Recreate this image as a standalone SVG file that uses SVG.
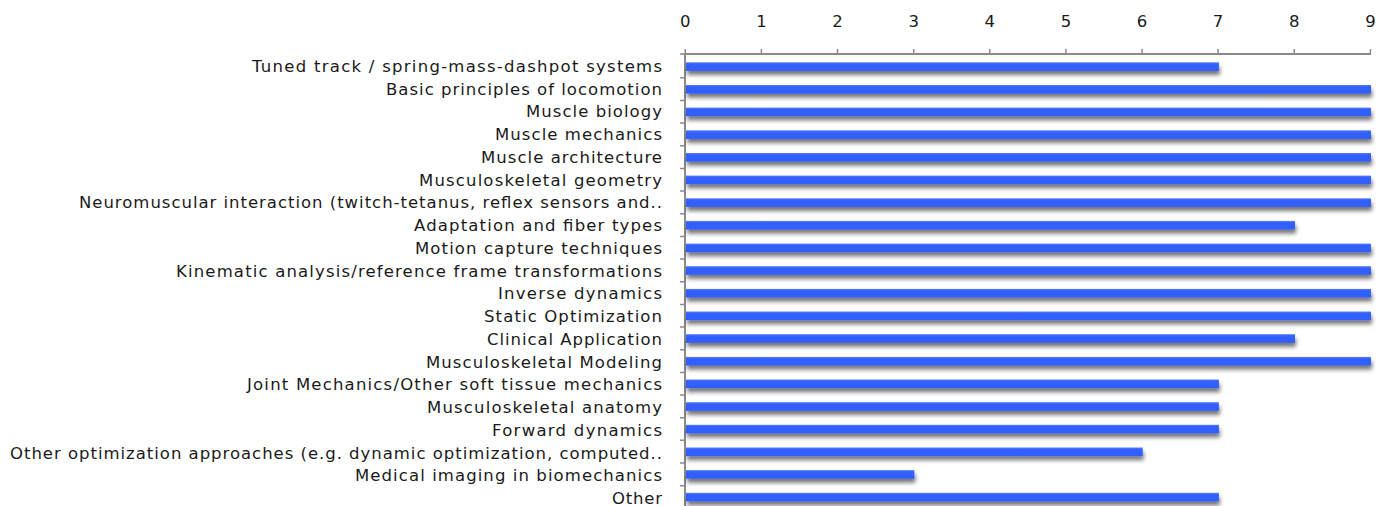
<svg xmlns="http://www.w3.org/2000/svg" width="1390" height="506" viewBox="0 0 1390 506">
  <style>
    .lbl { font-family: "DejaVu Sans", "Liberation Sans", sans-serif; font-size: 16.5px; fill: #1a1a1a; text-anchor: end; }
    .num { font-family: "DejaVu Sans", "Liberation Sans", sans-serif; font-size: 16.5px; fill: #1a1a1a; text-anchor: middle; }
    .axis { stroke: #8a8a8a; stroke-width: 2; fill: none; }
    .tick { stroke: #8a8a8a; stroke-width: 1.5; fill: none; }
    .bar { fill: url(#barFill); filter: url(#barShadow); }
  </style>
  <defs>
    <linearGradient id="barFill" x1="0" y1="0" x2="0" y2="1">
      <stop offset="0" stop-color="#5a80ff"/>
      <stop offset="0.2" stop-color="#3461ff"/>
      <stop offset="1" stop-color="#2f5cff"/>
    </linearGradient>
    <filter id="barShadow" x="-5%" y="-50%" width="110%" height="250%">
      <feGaussianBlur in="SourceAlpha" stdDeviation="2.2"/>
      <feOffset dx="1" dy="4" result="b"/>
      <feComponentTransfer><feFuncA type="linear" slope="0.55"/></feComponentTransfer>
      <feMerge><feMergeNode/><feMergeNode in="SourceGraphic"/></feMerge>
    </filter>
  </defs>

  <rect width="1390" height="506" fill="#ffffff"/>

  <!-- value axis (top) -->
  <g id="value-axis">
    <line class="axis" x1="685" y1="54" x2="1371" y2="54"/>
    <path class="tick" d="M685.3 49V54M761.4 49V54M837.5 49V54M913.7 49V54M989.8 49V54M1065.9 49V54M1142 49V54M1218.1 49V54M1294.3 49V54M1370.4 49V54"/>
    <text class="num" x="685.3" y="26.5">0</text>
    <text class="num" x="761.4" y="26.5">1</text>
    <text class="num" x="837.5" y="26.5">2</text>
    <text class="num" x="913.7" y="26.5">3</text>
    <text class="num" x="989.8" y="26.5">4</text>
    <text class="num" x="1065.9" y="26.5">5</text>
    <text class="num" x="1142" y="26.5">6</text>
    <text class="num" x="1218.1" y="26.5">7</text>
    <text class="num" x="1294.3" y="26.5">8</text>
    <text class="num" x="1370.4" y="26.5">9</text>
  </g>

  <!-- category axis (left) -->
  <g id="category-axis">
    <line class="axis" x1="685" y1="53" x2="685" y2="506"/>
    <path class="tick" d="M680 54H685M680 77.8H685M680 100.5H685M680 123.1H685M680 145.8H685M680 168.4H685M680 191.1H685M680 213.8H685M680 236.4H685M680 259.1H685M680 281.7H685M680 304.4H685M680 327H685M680 349.7H685M680 372.4H685M680 395H685M680 417.7H685M680 440.3H685M680 463H685M680 485.7H685"/>
  </g>

  <!-- bars: one group per category -->
  <g id="row-01"><text class="lbl" x="662" y="71.7" textLength="410" lengthAdjust="spacing">Tuned track / spring-mass-dashpot systems</text><rect class="bar" x="686" y="62.3" width="532.9" height="8.6"/></g>
  <g id="row-02"><text class="lbl" x="662" y="94.5" textLength="276" lengthAdjust="spacing">Basic principles of locomotion</text><rect class="bar" x="686" y="85" width="685" height="8.6"/></g>
  <g id="row-03"><text class="lbl" x="662" y="117.2" textLength="136" lengthAdjust="spacing">Muscle biology</text><rect class="bar" x="686" y="107.6" width="685" height="8.6"/></g>
  <g id="row-04"><text class="lbl" x="662" y="140" textLength="167" lengthAdjust="spacing">Muscle mechanics</text><rect class="bar" x="686" y="130.3" width="685" height="8.6"/></g>
  <g id="row-05"><text class="lbl" x="662" y="162.7" textLength="181" lengthAdjust="spacing">Muscle architecture</text><rect class="bar" x="686" y="153" width="685" height="8.6"/></g>
  <g id="row-06"><text class="lbl" x="662" y="185.5" textLength="243" lengthAdjust="spacing">Musculoskeletal geometry</text><rect class="bar" x="686" y="175.6" width="685" height="8.6"/></g>
  <g id="row-07"><text class="lbl" x="662" y="208.2" textLength="583" lengthAdjust="spacing">Neuromuscular interaction (twitch-tetanus, reflex sensors and..</text><rect class="bar" x="686" y="198.3" width="685" height="8.6"/></g>
  <g id="row-08"><text class="lbl" x="662" y="231" textLength="248" lengthAdjust="spacing">Adaptation and fiber types</text><rect class="bar" x="686" y="220.9" width="609" height="8.6"/></g>
  <g id="row-09"><text class="lbl" x="662" y="253.7" textLength="247" lengthAdjust="spacing">Motion capture techniques</text><rect class="bar" x="686" y="243.6" width="685" height="8.6"/></g>
  <g id="row-10"><text class="lbl" x="662" y="276.5" textLength="486" lengthAdjust="spacing">Kinematic analysis/reference frame transformations</text><rect class="bar" x="686" y="266.2" width="685" height="8.6"/></g>
  <g id="row-11"><text class="lbl" x="662" y="299.2" textLength="164" lengthAdjust="spacing">Inverse dynamics</text><rect class="bar" x="686" y="288.9" width="685" height="8.6"/></g>
  <g id="row-12"><text class="lbl" x="662" y="322" textLength="178" lengthAdjust="spacing">Static Optimization</text><rect class="bar" x="686" y="311.5" width="685" height="8.6"/></g>
  <g id="row-13"><text class="lbl" x="662" y="344.7" textLength="175" lengthAdjust="spacing">Clinical Application</text><rect class="bar" x="686" y="334.2" width="609" height="8.6"/></g>
  <g id="row-14"><text class="lbl" x="662" y="367.5" textLength="236" lengthAdjust="spacing">Musculoskeletal Modeling</text><rect class="bar" x="686" y="356.9" width="685" height="8.6"/></g>
  <g id="row-15"><text class="lbl" x="662" y="390.2" textLength="415" lengthAdjust="spacing">Joint Mechanics/Other soft tissue mechanics</text><rect class="bar" x="686" y="379.5" width="532.9" height="8.6"/></g>
  <g id="row-16"><text class="lbl" x="662" y="413" textLength="235" lengthAdjust="spacing">Musculoskeletal anatomy</text><rect class="bar" x="686" y="402.2" width="532.9" height="8.6"/></g>
  <g id="row-17"><text class="lbl" x="662" y="435.7" textLength="170" lengthAdjust="spacing">Forward dynamics</text><rect class="bar" x="686" y="424.8" width="532.9" height="8.6"/></g>
  <g id="row-18"><text class="lbl" x="662" y="458.5" textLength="652" lengthAdjust="spacing">Other optimization approaches (e.g. dynamic optimization, computed..</text><rect class="bar" x="686" y="447.5" width="456.7" height="8.6"/></g>
  <g id="row-19"><text class="lbl" x="662" y="481.2" textLength="307" lengthAdjust="spacing">Medical imaging in biomechanics</text><rect class="bar" x="686" y="470.1" width="228.4" height="8.6"/></g>
  <g id="row-20"><text class="lbl" x="662" y="504" textLength="50" lengthAdjust="spacing">Other</text><rect class="bar" x="686" y="492.8" width="532.9" height="8.6"/></g>
</svg>
